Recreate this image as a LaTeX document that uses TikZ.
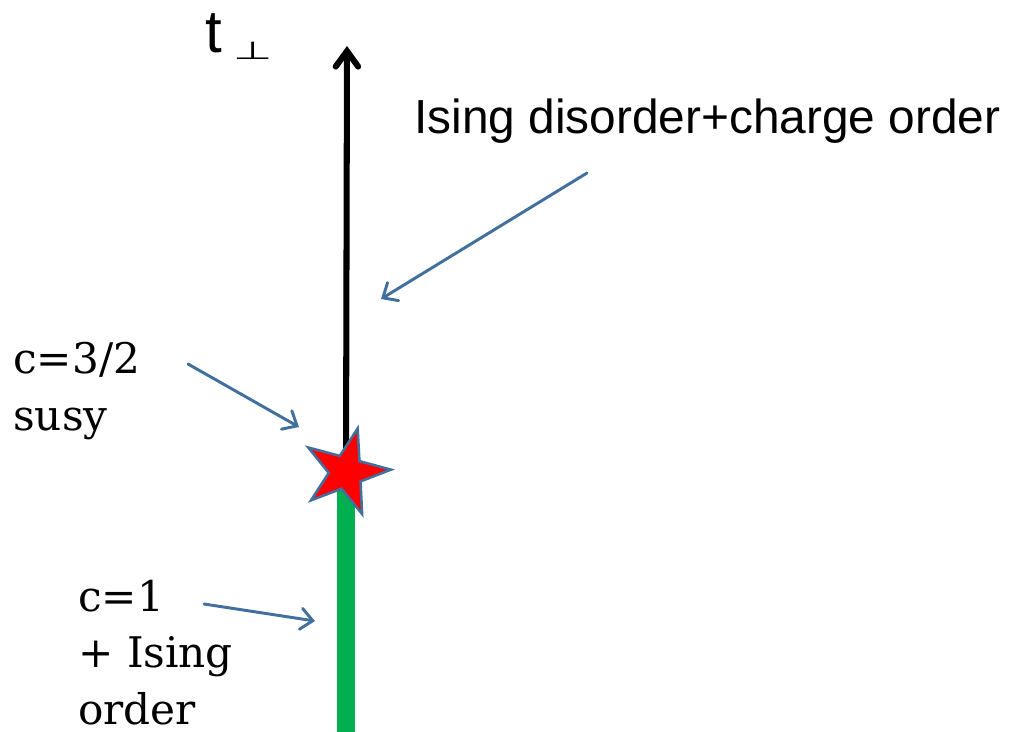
\documentclass[tikz,border=0pt]{standalone}
\usepackage{graphicx}
\usepackage{fontspec}
\setmainfont{DejaVu Serif}
\setsansfont{Liberation Sans}
\newfontfamily\perpfont{DejaVu Sans}
\usetikzlibrary{arrows.meta,shapes.geometric}

\begin{document}
\begin{tikzpicture}[x=0.025cm,y=-0.025cm]
  % Colours of the slide.
  \definecolor{pointerblue}{HTML}{41709F}
  \definecolor{phasegreen}{HTML}{00B050}
  \useasboundingbox (0,0) rectangle (1009,732);
  \tikzset{
    pointer/.style={pointerblue,line width=2.1pt,line cap=round,
      -{Straight Barb[length=8.5pt,width=15pt,line cap=round]}},
    phase/.style={anchor=base west,inner sep=0pt,align=left,
      font=\fontsize{30}{40}\selectfont}
  }

  % The t_perp axis, green below the critical point.
  \coordinate (crit) at (346,472);
  \coordinate (bottom) at (346,740);
  \coordinate (top) at (347,46);
  \draw[phasegreen,line width=12.8pt] (bottom) -- (crit);
  \draw[black,line width=4.3pt,
    -{Straight Barb[length=11pt,width=16pt,line cap=round]}] (crit) -- (top);
  \node[star,star points=5,star point ratio=2.6,minimum size=64pt,inner sep=0pt,
    shape border rotate=-15,fill=red,draw=pointerblue,line width=1.8pt] (susy) at (crit) {};

  \node[font=\sffamily\fontsize{42.7}{50}\selectfont,anchor=base west,inner sep=0pt] (tperp) at (205,52)
    {t\hspace{8pt}\raisebox{-5pt}{\perpfont\fontsize{32}{34}\selectfont\scalebox{1}[0.55]{⊥}}};
  \node[font=\sffamily\fontsize{34}{40}\selectfont,anchor=base west,inner sep=0pt] (ising) at (414,133)
    {Ising disorder+charge order};
  % Multi-line labels sit on the baseline of their last line.
  \node[phase] (tricrit) at (13,430) {c=3/2\\susy};
  \node[phase] (ordered) at (78,724) {c=1\\+ Ising\\order};

  % Pointers from the labels to the axis.
  \coordinate (isingtail) at (587,173);
  \coordinate (isingtip) at (381,299);
  \coordinate (susytail) at (188,364);
  \coordinate (susytip) at (299,427);
  \coordinate (ordertail) at (204,604);
  \coordinate (ordertip) at (315,621);
  \draw[pointer] (isingtail) -- (isingtip);
  \draw[pointer] (susytail) -- (susytip);
  \draw[pointer] (ordertail) -- (ordertip);
\end{tikzpicture}
\end{document}
